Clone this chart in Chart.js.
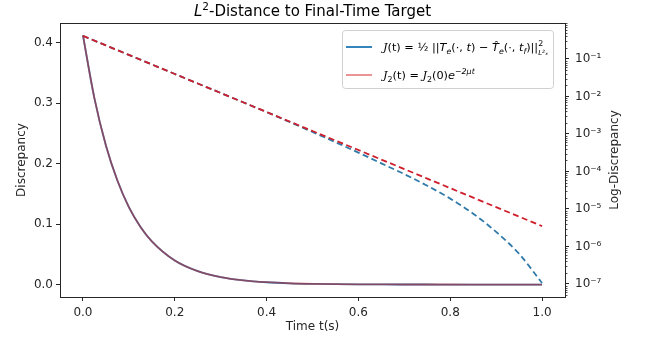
<!DOCTYPE html>
<html lang="en">
  <head>
    <meta charset="UTF-8" />
    <title>L2 Distance to Final-Time Target</title>
    <script src="https://cdn.jsdelivr.net/npm/chart.js"></script>
    <style>
      body { margin: 0; background: #fff; }
      #wrap { width: 646px; height: 343px; }
    </style>
  </head>
  <body>
    <div id="wrap"><canvas id="chart" width="646" height="343"></canvas></div>
    <script>
      // time samples (s), a little denser at the steep start
      const tVals = [0, 0.025, 0.05, 0.075, 0.1, 0.125, 0.15, 0.2, 0.25, 0.3, 0.35, 0.4, 0.45, 0.5,
        0.55, 0.6, 0.65, 0.7, 0.75, 0.8, 0.85, 0.9, 0.95, 1.0];
      // J(t)
      const jVals = [0.412, 0.308, 0.23, 0.172, 0.128, 0.0957, 0.0715, 0.0398, 0.0222, 0.0124, 0.0069,
        0.00383, 0.0021, 0.00113, 6.04e-4, 3.18e-4, 1.65e-4, 8.5e-5, 4.17e-5,
        1.89e-5, 7.5e-6, 2.45e-6, 6.4e-7, 1.06e-7];
      // J2(t) = J2(0) e^{-2 mu t}
      const j2Vals = [0.412, 0.308, 0.23, 0.172, 0.128, 0.0957, 0.0715, 0.0398, 0.0222, 0.0124, 0.0069,
        0.00385, 0.00215, 0.0012, 6.7e-4, 3.73e-4, 2.08e-4, 1.16e-4, 6.46e-5,
        3.6e-5, 2.01e-5, 1.12e-5, 6.25e-6, 3.5e-6];

      const xTicks = [0, 0.2, 0.4, 0.6, 0.8, 1.0];
      const leftTicks = [0, 0.1, 0.2, 0.3, 0.4];
      const logTicks = [1e-7, 1e-6, 1e-5, 1e-4, 1e-3, 1e-2, 1e-1];
      const logTickLabels = ["10⁻⁷", "10⁻⁶", "10⁻⁵", "10⁻⁴", "10⁻³", "10⁻²", "10⁻¹"];

      const pts = (ys) => tVals.map((t, i) => ({ x: t, y: ys[i] }));
      const FONT = "DejaVu Sans";
      const ink = "#262626";

      // little helper for text with italics / super / subscripts
      function rich(ctx, x, y, parts, size) {
        for (const [txt, kind] of parts) {
          if (kind === "supsub") {
            ctx.font = (size * 0.7) + "px '" + FONT + "'";
            ctx.fillText(txt[0], x, y - size * 0.42);
            ctx.font = "italic " + (size * 0.62) + "px '" + FONT + "'";
            ctx.fillText(txt[1], x, y + size * 0.32);
            x += Math.max(ctx.measureText(txt[0]).width, ctx.measureText(txt[1]).width) + 1;
            continue;
          }
          let fs = size, dy = 0, style = "", fam = FONT;
          if (kind.includes("i")) style = "italic ";
          if (kind.includes("c")) { style = "italic "; fam = "DejaVu Serif"; }
          if (kind.includes("p")) { fs = size * 0.7; dy = -size * 0.42; }
          if (kind.includes("b")) { fs = size * 0.7; dy = size * 0.28; }
          ctx.font = style + fs + "px '" + fam + "'";
          ctx.fillText(txt, x, y + dy);
          x += ctx.measureText(txt).width;
        }
        return x;
      }

      const extras = {
        id: "extras",
        afterDraw(chart) {
          const { ctx, chartArea: a, scales } = chart;
          ctx.save();
          // frame
          ctx.strokeStyle = ink;
          ctx.lineWidth = 1;
          ctx.strokeRect(a.left + 0.5, a.top + 0.5, a.right - a.left, a.bottom - a.top);

          // minor log ticks on the right axis
          const y2 = scales.y2;
          ctx.beginPath();
          for (let e = -8; e <= 0; e++) {
            for (let k = 2; k <= 9; k++) {
              const v = k * Math.pow(10, e);
              if (v < y2.min || v > y2.max) continue;
              const py = Math.round(y2.getPixelForValue(v)) + 0.5;
              ctx.moveTo(a.right, py);
              ctx.lineTo(a.right + 2.5, py);
            }
          }
          ctx.lineWidth = 0.8;
          ctx.stroke();

          // right axis title, reading bottom to top like matplotlib
          ctx.save();
          ctx.translate(615, (a.top + a.bottom) / 2);
          ctx.rotate(-Math.PI / 2);
          ctx.font = "12px '" + FONT + "'";
          ctx.fillStyle = ink;
          ctx.textAlign = "center";
          ctx.textBaseline = "middle";
          ctx.fillText("Log-Discrepancy", 0, 0);
          ctx.restore();

          // title
          ctx.fillStyle = "#000";
          ctx.textBaseline = "alphabetic";
          const cx = (a.left + a.right) / 2;
          const tParts = [["L", "i"], ["2", "p"], ["-Distance to Final-Time Target", "n"]];
          let w = 0;
          const tmp = document.createElement("canvas").getContext("2d");
          for (const [txt, kind] of tParts) {
            tmp.font = (kind === "i" ? "italic " : "") + (kind === "p" ? 10.5 : 15) + "px '" + FONT + "'";
            w += tmp.measureText(txt).width;
          }
          rich(ctx, cx - w / 2, 16, tParts, 15);

          // legend
          const lx = 342, ly = 30, lw = 211, lh = 58;
          ctx.beginPath();
          ctx.roundRect(lx + 0.5, ly + 0.5, lw, lh, 3);
          ctx.fillStyle = "rgba(255,255,255,0.85)";
          ctx.fill();
          ctx.strokeStyle = "#d0d0d0";
          ctx.lineWidth = 1;
          ctx.stroke();
          const ds = chart.data.datasets;
          const rows = [
            { y: 47, color: ds[0].borderColor, parts: [["J", "c"], ["(t) = ½ ||", "n"], ["T", "i"], ["e", "ib"],
              ["(·, ", "n"], ["t", "i"], [") − ", "n"], ["T̂", "i"], ["e", "ib"], ["(·, ", "n"], ["t", "i"],
              ["f", "ib"], [")||", "n"], [["2", "L²ₓ"], "supsub"]] },
            { y: 75, color: ds[1].borderColor, parts: [["J", "c"], ["2", "b"], ["(t) = ", "n"], ["J", "c"],
              ["2", "b"], ["(0)", "n"], ["e", "i"], ["−2μt", "ip"]] }
          ];
          for (const r of rows) {
            ctx.beginPath();
            ctx.moveTo(346, r.y);
            ctx.lineTo(372, r.y);
            ctx.strokeStyle = r.color;
            ctx.lineWidth = 1.8;
            ctx.stroke();
            ctx.fillStyle = "#000";
            rich(ctx, 383, r.y + 4, r.parts, 11.3);
          }
          ctx.restore();
        }
      };

      const tickFont = { family: FONT, size: 12 };
      const axisGrid = { drawOnChartArea: false, tickLength: 4, color: ink, tickColor: ink };

      new Chart(document.getElementById("chart"), {
        type: "line",
        data: {
          datasets: [
            { label: "J(t)", data: pts(jVals), yAxisID: "y", borderColor: "#1f77b4",
              borderWidth: 1.8, pointRadius: 0, cubicInterpolationMode: "monotone", order: 4 },
            { label: "J2(t)", data: pts(j2Vals), yAxisID: "y", borderColor: "rgba(214,39,40,0.55)",
              borderWidth: 1.8, pointRadius: 0, cubicInterpolationMode: "monotone", order: 3 },
            { label: "log J(t)", data: pts(jVals), yAxisID: "y2", borderColor: "#2f7aa8",
              borderWidth: 1.8, borderDash: [6, 3.5], pointRadius: 0, cubicInterpolationMode: "monotone", order: 2 },
            { label: "log J2(t)", data: pts(j2Vals), yAxisID: "y2", borderColor: "#cf1f2c",
              borderWidth: 1.8, borderDash: [6, 3.5], pointRadius: 0, tension: 0, order: 1 }
          ]
        },
        options: {
          responsive: false,
          animation: false,
          devicePixelRatio: 1,
          layout: { padding: { top: 23, left: 0, right: 0, bottom: 0 } },
          plugins: { legend: { display: false }, title: { display: false }, tooltip: { enabled: false } },
          scales: {
            x: {
              type: "linear", min: -0.05, max: 1.05,
              afterBuildTicks: (s) => { s.ticks = xTicks.map((v) => ({ value: v })); },
              afterFit: (s) => { s.height = 46; },
              ticks: { font: tickFont, color: ink, padding: 5, maxRotation: 0, callback: (v) => v.toFixed(1) },
              grid: axisGrid,
              border: { color: ink },
              title: { display: true, text: "Time t(s)", font: tickFont, color: ink, padding: { top: 0, bottom: 9 } }
            },
            y: {
              type: "linear", position: "left", min: -0.0206, max: 0.4326,
              afterBuildTicks: (s) => { s.ticks = leftTicks.map((v) => ({ value: v })); },
              afterFit: (s) => { s.width = 60; },
              ticks: { font: tickFont, color: ink, padding: 3, callback: (v) => v.toFixed(1) },
              grid: axisGrid,
              border: { color: ink },
              title: { display: true, text: "Discrepancy", font: tickFont, color: ink, padding: { top: 15, bottom: 0 } }
            },
            y2: {
              type: "logarithmic", position: "right", min: 4.5e-8, max: 0.91,
              afterBuildTicks: (s) => { s.ticks = logTicks.map((v) => ({ value: v, major: true })); },
              afterFit: (s) => { s.width = 81; },
              ticks: { font: tickFont, color: ink, padding: 6,
                callback: (v) => logTickLabels[logTicks.findIndex((t) => Math.abs(t - v) / t < 1e-6)] ?? "" },
              grid: axisGrid,
              border: { color: ink },
              title: { display: false }
            }
          }
        },
        plugins: [extras]
      });
    </script>
  </body>
</html>
